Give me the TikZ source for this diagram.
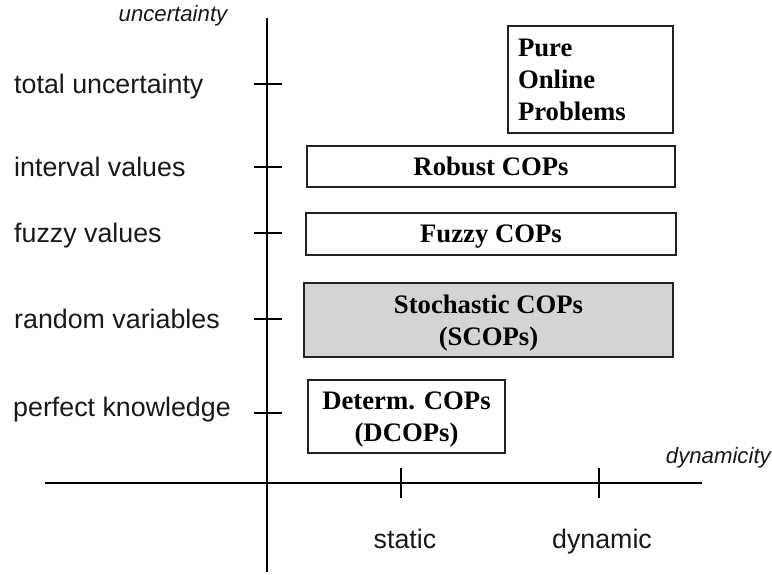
\documentclass[tikz,border=0pt]{standalone}
\usepackage{fontspec}
\setmainfont{Liberation Serif}
\newfontfamily\labfont{Liberation Sans}
\definecolor{boxgray}{HTML}{D4D4D4}
\definecolor{linecol}{HTML}{222222}
\tikzset{
  axisline/.style={draw=black, line width=1.3pt},
  tickline/.style={draw=black, line width=1.3pt},
  lab/.style={font=\labfont\fontsize{26.8}{30}\selectfont, inner sep=0pt, text=black!90},
  axlab/.style={font=\labfont\itshape\fontsize{22.2}{26}\selectfont, inner sep=0pt, text=black!90},
  cop/.style={draw=linecol, line width=1.6pt, font=\bfseries\fontsize{26.7}{32}\selectfont,
    align=center, inner sep=0pt, text=black},
  flat/.style={text depth=0pt},
}
\begin{document}
\begin{tikzpicture}[x=1pt,y=-1pt]
\useasboundingbox (0,0) rectangle (772,575);
% axes
\coordinate (ytop) at (267,18);
\coordinate (ybot) at (267,572);
\coordinate (xleft) at (45,483);
\coordinate (xright) at (702,483);
\draw[axisline] (ytop) -- (ybot);
\draw[axisline] (xleft) -- (xright);
% y ticks
\foreach \n/\y in {t1/84, t2/167, t3/233, t4/319, t5/413}{
  \coordinate (\n a) at (254,\y);
  \coordinate (\n b) at (282,\y);
  \draw[tickline] (\n a) -- (\n b);
}
% x ticks
\coordinate (s1) at (401,468); \coordinate (s2) at (401,498);
\coordinate (d1) at (599,468); \coordinate (d2) at (599,498);
\draw[tickline] (s1) -- (s2);
\draw[tickline] (d1) -- (d2);
% axis titles
\node[axlab, anchor=base] (yt) at (173,22) {uncertainty};
\node[axlab, anchor=base east] (xt) at (771,463) {dynamicity};
% y labels
\node[lab, anchor=base west] (l1) at (14,94) {total uncertainty};
\node[lab, anchor=base west] (l2) at (14,177) {interval values};
\node[lab, anchor=base west] (l3) at (14,243) {fuzzy values};
\node[lab, anchor=base west] (l4) at (14,328) {random variables};
\node[lab, anchor=base west] (l5) at (13,416) {perfect knowledge};
% x labels
\node[lab, anchor=base] (ls) at (405,548) {static};
\node[lab, anchor=base] (ld) at (602,548) {dynamic};
% boxes
\node[cop, align=left, minimum width=165pt, minimum height=107pt, text width=145pt] (pure) at (590.5,79.5) {Pure\\Online\\Problems};
\node[cop, flat, minimum width=368pt, minimum height=41pt] (robust) at (491,166.5) {Robust COPs};
\node[cop, flat, minimum width=370pt, minimum height=42pt] (fuzzy) at (491,234) {Fuzzy COPs};
\node[cop, flat, fill=boxgray, minimum width=369pt, minimum height=74pt] (stoch) at (488.5,320) {Stochastic COPs\\(SCOPs)};
\node[cop, flat, minimum width=197pt, minimum height=73pt] (determ) at (406.5,416.5) {Determ. COPs\\(DCOPs)};
\end{tikzpicture}
\end{document}
